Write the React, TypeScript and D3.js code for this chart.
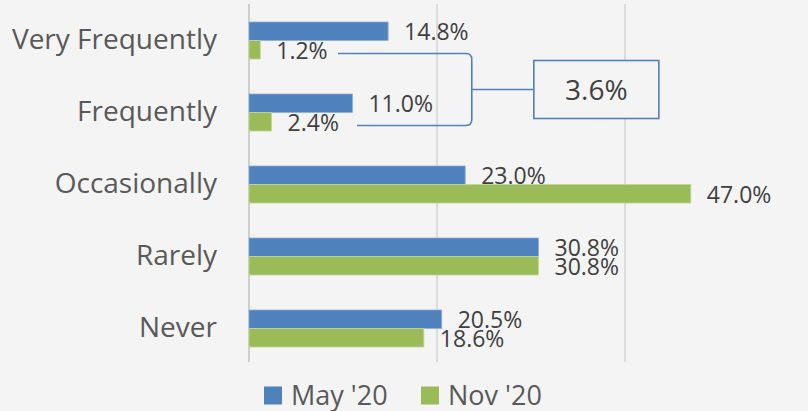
// @ts-nocheck
import React, { useRef, useEffect } from "react";
import * as d3 from "d3";

const categories = ["Very Frequently", "Frequently", "Occasionally", "Rarely", "Never"];
const seriesNames = ["May '20", "Nov '20"];
const may20 = [14.8, 11.0, 23.0, 30.8, 20.5];
const nov20 = [1.2, 2.4, 47.0, 30.8, 18.6];
const xTicks = [0, 20, 40, 60];
const colors = ["#4f81bd", "#9bbb59"];
const calloutText = "3.6%";

const Chart = () => {
  const svgRef = useRef(null);
  const width = 808,
    height = 411;

  useEffect(() => {
    const svg = d3.select(svgRef.current);
    svg.selectAll("*").remove();

    const font = "'Open Sans', 'DejaVu Sans', sans-serif";

    svg
      .attr("width", width)
      .attr("height", height)
      .attr("viewBox", [0, 0, width, height])
      .style("font-family", font);

    svg.append("rect").attr("width", width).attr("height", height).attr("fill", "#f4f4f4");

    const x = d3.scaleLinear().domain([0, 60]).range([249, 813]);

    const y = d3
      .scaleBand()
      .domain(categories)
      .range([4.5, 364.5])
      .paddingInner(0.486)
      .paddingOuter(0.243);

    const ySub = d3.scaleBand().domain(seriesNames).range([0, y.bandwidth()]);

    // grid lines
    svg
      .append("g")
      .selectAll("line")
      .data(xTicks)
      .join("line")
      .attr("x1", (d) => x(d))
      .attr("x2", (d) => x(d))
      .attr("y1", 4)
      .attr("y2", 362)
      .attr("stroke", (d) => (d === 0 ? "#d0d0d0" : "#dcdcdc"))
      .attr("stroke-width", 2);

    // category labels
    svg
      .append("g")
      .selectAll("text")
      .data(categories)
      .join("text")
      .attr("x", 217)
      .attr("y", (d) => y(d) + y.bandwidth() / 2 + 8.5)
      .attr("text-anchor", "end")
      .attr("font-size", 28)
      .attr("fill", "#595959")
      .text((d) => d);

    const seriesData = [may20, nov20];

    // draw each series: bars then labels, so later bars cover earlier labels
    seriesData.forEach((values, si) => {
      const rows = categories.map((c, i) => ({ c, v: values[i] }));
      const g = svg.append("g");
      g.selectAll("rect")
        .data(rows)
        .join("rect")
        .attr("x", x(0))
        .attr("y", (d) => y(d.c) + ySub(seriesNames[si]))
        .attr("width", (d) => x(d.v) - x(0))
        .attr("height", ySub.bandwidth())
        .attr("fill", colors[si])
        .attr("stroke", si === 0 ? "#8fb0d8" : "#c3d69b")
        .attr("stroke-width", 0.8);

      g.selectAll("text")
        .data(rows)
        .join("text")
        .attr("x", (d) => x(d.v) + 16)
        .attr("y", (d) => y(d.c) + ySub(seriesNames[si]) + ySub.bandwidth() / 2 + 9)
        .attr("font-size", 23)
        .attr("fill", "#404040")
        .text((d) => d.v.toFixed(1) + "%");
    });

    // callout bracket between the two "frequent" Nov rows
    const yA = y(categories[0]) + ySub(seriesNames[1]) + 13;
    const yB = y(categories[1]) + ySub(seriesNames[1]) + 13;
    const xBr = x(23.7);
    const r = 6;
    const bracket = d3.path();
    bracket.moveTo(338, yA);
    bracket.lineTo(xBr - r, yA);
    bracket.quadraticCurveTo(xBr, yA, xBr, yA + r);
    bracket.lineTo(xBr, yB - r);
    bracket.quadraticCurveTo(xBr, yB, xBr - r, yB);
    bracket.lineTo(357, yB);
    const yMid = (yA + yB) / 2;
    svg
      .append("path")
      .attr("d", bracket.toString())
      .attr("fill", "none")
      .attr("stroke", "#4f81bd")
      .attr("stroke-width", 1.6);

    const boxX0 = x(30.3),
      boxX1 = x(43.6);
    svg
      .append("line")
      .attr("x1", xBr)
      .attr("x2", boxX0)
      .attr("y1", yMid)
      .attr("y2", yMid)
      .attr("stroke", "#4f81bd")
      .attr("stroke-width", 1.6);
    svg
      .append("rect")
      .attr("x", boxX0)
      .attr("y", yMid - 29)
      .attr("width", boxX1 - boxX0)
      .attr("height", 58)
      .attr("fill", "#f4f4f4")
      .attr("stroke", "#4f81bd")
      .attr("stroke-width", 1.6);
    svg
      .append("text")
      .attr("x", (boxX0 + boxX1) / 2)
      .attr("y", yMid + 10)
      .attr("text-anchor", "middle")
      .attr("font-size", 28)
      .attr("fill", "#404040")
      .text(calloutText);

    // legend
    const legendX = [264, 421];
    const legend = svg
      .append("g")
      .selectAll("g")
      .data(seriesNames)
      .join("g")
      .attr("transform", (d, i) => `translate(${legendX[i]},386.5)`);
    legend
      .append("rect")
      .attr("width", 18)
      .attr("height", 18)
      .attr("fill", (d, i) => colors[i]);
    legend
      .append("text")
      .attr("x", 27)
      .attr("y", 18.5)
      .attr("font-size", 27)
      .attr("fill", "#595959")
      .text((d) => d);
  }, []);

  return <svg ref={svgRef} style={{ position: "absolute", left: 0, top: 0, display: "block" }}></svg>;
};

export default function App() {
  return <Chart />;
}
